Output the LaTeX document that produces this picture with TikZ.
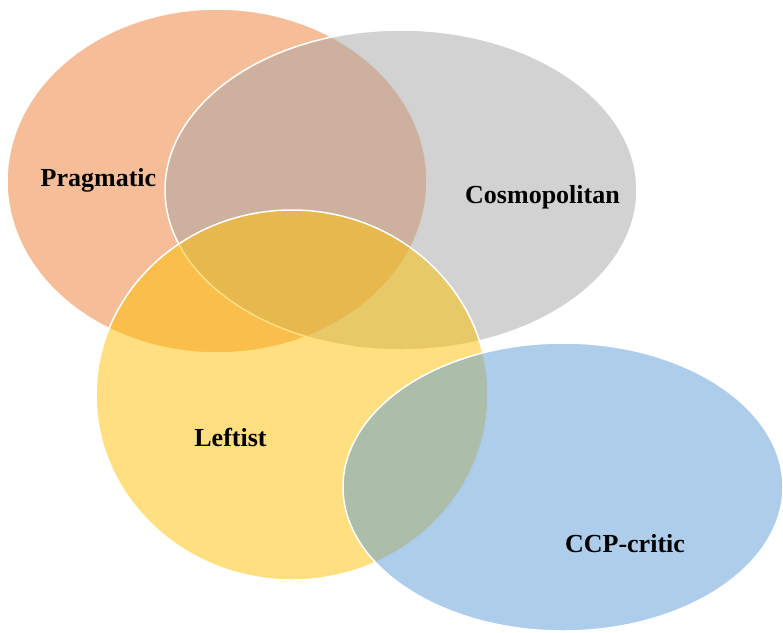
\documentclass[tikz,border=0pt]{standalone}
\usepackage{fontspec}
\setmainfont{Liberation Serif}
\usepackage{tikz}
\usetikzlibrary{calc}

\definecolor{venorange}{HTML}{ED7D31}
\definecolor{vengray}{HTML}{A5A5A5}
\definecolor{vengold}{HTML}{FFC000}
\definecolor{venblue}{HTML}{5B9BD5}

\tikzset{
    blob/.style={fill opacity=0.5, draw=white, draw opacity=1, line width=1.5pt},
    lbl/.style={anchor=base, font=\fontsize{26}{30}\selectfont\bfseries, inner sep=0pt}
}

\begin{document}
\begin{tikzpicture}[x=1pt, y=-1pt]
    \useasboundingbox (0,0) rectangle (783,632);

    \filldraw[blob, fill=venorange] (217,181) ellipse [x radius=210, y radius=172];
    \filldraw[blob, fill=vengray] (401,190) ellipse [x radius=236, y radius=160];
    \filldraw[blob, fill=vengold] (292,395) ellipse [x radius=196, y radius=185];
    \filldraw[blob, fill=venblue] (563,487) ellipse [x radius=220, y radius=144];

    \node[lbl] (prag) at (98.5,186) {Pragmatic};
    \node[lbl] (cosmo) at (542.5,203) {Cosmopolitan};
    \node[lbl] (left) at (230.5,446.5) {Leftist};
    \node[lbl] (ccp) at (625,552) {CCP-critic};

\end{tikzpicture}
\end{document}
